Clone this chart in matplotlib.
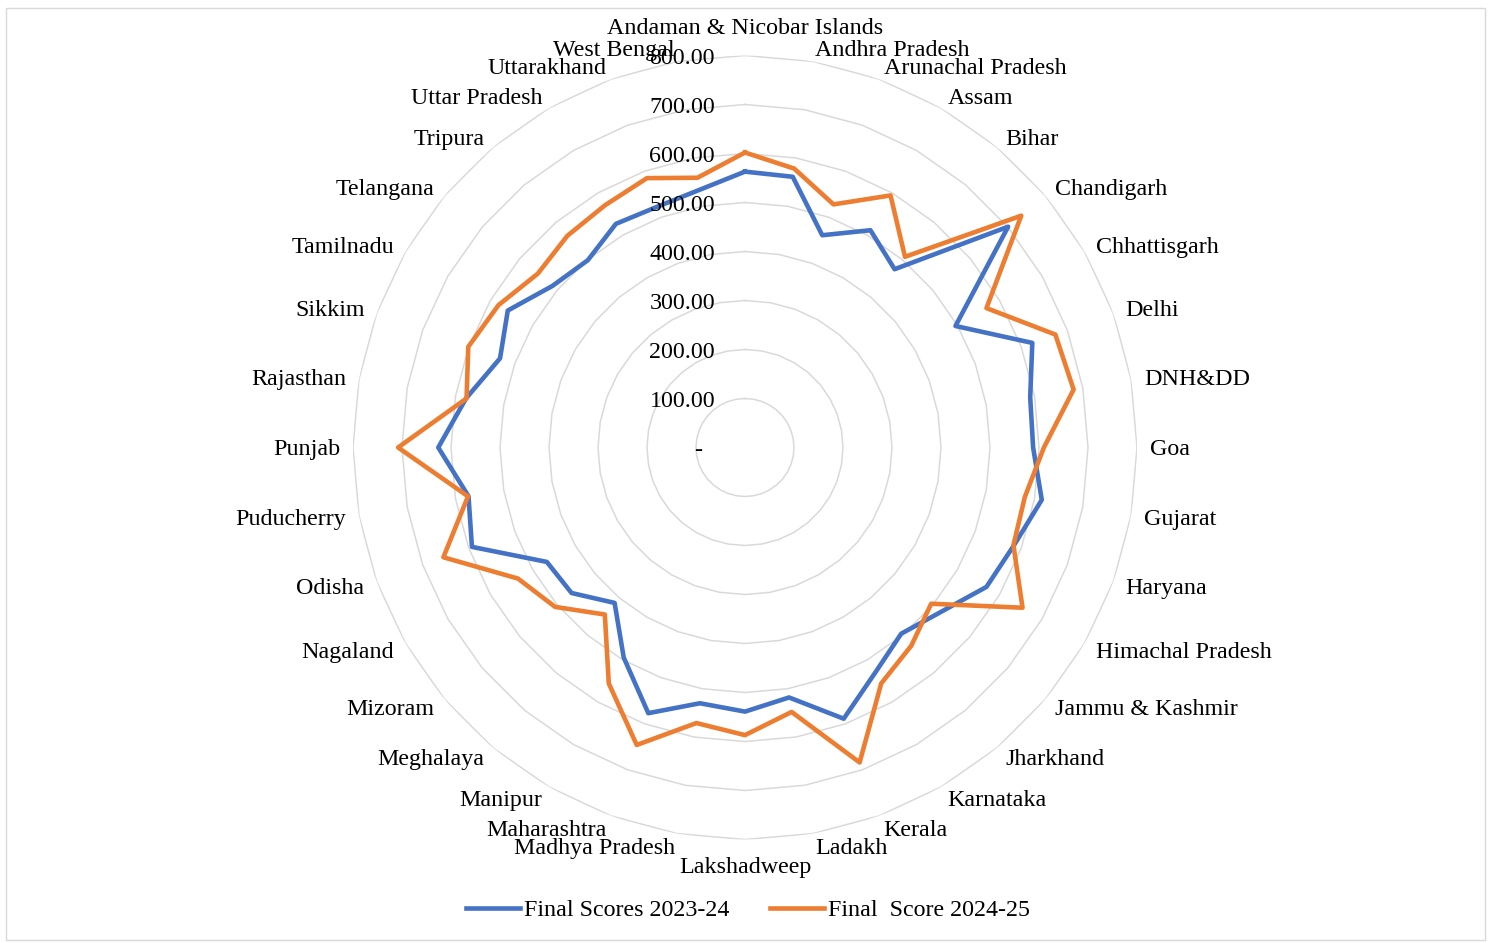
import numpy as np
import matplotlib
matplotlib.use("Agg")
import matplotlib.pyplot as plt
from matplotlib.patches import Rectangle
from matplotlib.transforms import offset_copy

plt.rcParams['font.family'] = ['Liberation Serif', 'DejaVu Serif']

categories = [
    "Andaman & Nicobar Islands", "Andhra Pradesh", "Arunachal Pradesh", "Assam", "Bihar",
    "Chandigarh", "Chhattisgarh", "Delhi", "DNH&DD", "Goa", "Gujarat", "Haryana",
    "Himachal Pradesh", "Jammu & Kashmir", "Jharkhand", "Karnataka", "Kerala", "Ladakh",
    "Lakshadweep", "Madhya Pradesh", "Maharashtra", "Manipur", "Meghalaya", "Mizoram",
    "Nagaland", "Odisha", "Puducherry", "Punjab", "Rajasthan", "Sikkim", "Tamilnadu",
    "Telangana", "Tripura", "Uttar Pradesh", "Uttarakhand", "West Bengal",
]

scores_2023_24 = [563, 561, 461, 512, 475, 701, 496, 624, 591, 588, 615, 584,
                  569, 522, 496, 531, 589, 518, 539, 530, 577, 495, 414, 462,
                  467, 593, 573, 626, 578, 532, 559, 513, 499, 527, 523, 534]

scores_2024_25 = [602, 578, 528, 594, 508, 736, 569, 674, 681, 610, 580, 583,
                  654, 496, 528, 556, 684, 548, 587, 571, 646, 556, 445, 506,
                  535, 655, 574, 708, 577, 601, 581, 552, 564, 571, 585, 559]

series_labels = ["Final Scores 2023-24", "Final  Score 2024-25"]
radial_ticks = [0, 100, 200, 300, 400, 500, 600, 700, 800]
radial_tick_labels = ["-", "100.00", "200.00", "300.00", "400.00", "500.00",
                      "600.00", "700.00", "800.00"]

W, H = 1491, 943
fig = plt.figure(figsize=(W / 100, H / 100), dpi=100)

# chart border
fig.patches.append(Rectangle((6 / W, 1 - 940 / H), (1485 - 6) / W, (940 - 8) / H,
                             transform=fig.transFigure, fill=False,
                             edgecolor='#d9d9d9', linewidth=1.0))

cx, cy, R = 745, 447.5, 392
ax = fig.add_axes([(cx - R) / W, (H - cy - R) / H, 2 * R / W, 2 * R / H],
                  projection='polar')
ax.set_theta_zero_location('N')
ax.set_theta_direction(-1)
ax.set_ylim(0, 800)
ax.grid(False)
ax.spines['polar'].set_visible(False)
ax.set_xticks([])
ax.set_yticks([])
ax.patch.set_visible(False)

n = len(categories)
theta = np.arange(n) * 2 * np.pi / n
theta_c = np.append(theta, theta[0])

# polygon gridlines
for v in radial_ticks[1:]:
    ax.plot(theta_c, [v] * (n + 1), color='#d9d9d9', lw=1.1, zorder=1)

# data
b = np.append(scores_2023_24, scores_2023_24[0])
o = np.append(scores_2024_25, scores_2024_25[0])
l1, = ax.plot(theta_c, b, color='#4472C4', lw=3.3, solid_joinstyle='round',
              zorder=3, label=series_labels[0])
l2, = ax.plot(theta_c, o, color='#ED7D31', lw=3.3, solid_joinstyle='round',
              zorder=4, label=series_labels[1])

fs = 17.3
# radial value labels
for v, s in zip(radial_ticks, radial_tick_labels):
    dx = -43 if s == "-" else -30
    tr = offset_copy(ax.transData, fig=fig, x=dx, y=-3, units='dots')
    ax.text(0, v, s, transform=tr, ha='right', va='center', fontsize=fs,
            color='#000000', zorder=5)

# category labels
r_lab = 405 / R * 800
for i, (t, name) in enumerate(zip(theta, categories)):
    deg = i * 360 / n
    dy = -2
    if deg == 0:
        ha, va, dy = 'center', 'bottom', 4
    elif deg == 180:
        ha, va, dy = 'center', 'top', -5
    elif deg < 180:
        ha, va = 'left', 'center'
    else:
        ha, va = 'right', 'center'
    tr = offset_copy(ax.transData, fig=fig, x=0, y=dy, units='dots')
    ax.text(t, r_lab, name, transform=tr, ha=ha, va=va, fontsize=fs,
            color='#000000', clip_on=False)

fig.legend([l1, l2], series_labels, loc='center',
           bbox_to_anchor=(748 / W, 1 - 910 / H), ncol=2, frameon=False,
           fontsize=fs, handlelength=2.25, handletextpad=0.17,
           columnspacing=1.7)

fig.savefig("out.png", dpi=100)
